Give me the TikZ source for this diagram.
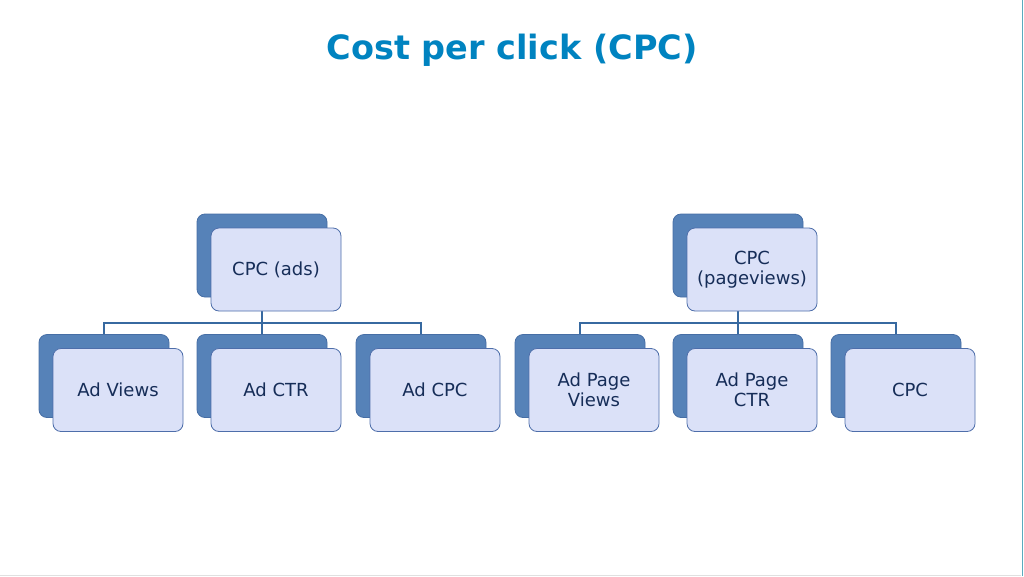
\documentclass[tikz,border=0pt]{standalone}
\usepackage{fontspec}
\setmainfont{DejaVu Sans}
\usetikzlibrary{backgrounds}
\definecolor{titleblue}{RGB}{0,131,192}
\definecolor{backbox}{RGB}{86,130,184}
\definecolor{backedge}{RGB}{70,110,165}
\definecolor{frontfill}{RGB}{219,225,248}
\definecolor{frontedge}{RGB}{78,110,170}
\definecolor{linkblue}{RGB}{55,105,160}
\definecolor{textnavy}{RGB}{22,45,88}
\definecolor{edgeteal}{RGB}{90,170,190}
\tikzset{
  backnode/.style={draw=backedge, fill=backbox, rounded corners=8pt, minimum width=130pt, minimum height=83pt, inner sep=0pt, line width=0.8pt},
  frontnode/.style={draw=frontedge, fill=frontfill, rounded corners=8pt, minimum width=130pt, minimum height=83pt, inner sep=0pt, line width=0.8pt, align=center, text=textnavy, font=\fontsize{18}{20}\selectfont},
  link/.style={draw=linkblue, line width=1.1pt},
}
\begin{document}
\begin{tikzpicture}[x=1pt,y=-1pt]
\useasboundingbox (0,0) rectangle (1024,576);
\draw[edgeteal, line width=1.5pt] (1022.5,0) -- (1022.5,576);
\draw[black!12, line width=1pt] (0,575) -- (1021,575);
\node[text=titleblue, font=\bfseries\fontsize{33.5}{36}\selectfont] (title) at (512,50) {Cost per click (CPC)};

% left tree
\node[backnode] (pab) at (262,255.5) {};
\node[frontnode] (paf) at (276,269.5) {CPC (ads)};
\node[backnode] (c1b) at (104,376) {};
\node[frontnode] (c1f) at (118,390) {Ad Views};
\node[backnode] (c2b) at (262,376) {};
\node[frontnode] (c2f) at (276,390) {Ad CTR};
\node[backnode] (c3b) at (421,376) {};
\node[frontnode] (c3f) at (435,390) {Ad CPC};

% right tree
\node[backnode] (pbb) at (738,255.5) {};
\node[frontnode] (pbf) at (752,269.5) {CPC\\(pageviews)};
\node[backnode] (d1b) at (580,376) {};
\node[frontnode] (d1f) at (594,390) {Ad Page\\Views};
\node[backnode] (d2b) at (738,376) {};
\node[frontnode] (d2f) at (752,390) {Ad Page\\CTR};
\node[backnode] (d3b) at (896,376) {};
\node[frontnode] (d3f) at (910,390) {CPC};

\begin{pgfonlayer}{background}
\coordinate (jl) at (262,323);
\coordinate (jr) at (738,323);
\draw[link] (pab.center) -- (c2b.north);
\draw[link] (c1b.north) |- (jl) -| (c3b.north);
\draw[link] (pbb.center) -- (d2b.north);
\draw[link] (d1b.north) |- (jr) -| (d3b.north);
\end{pgfonlayer}
\end{tikzpicture}
\end{document}
